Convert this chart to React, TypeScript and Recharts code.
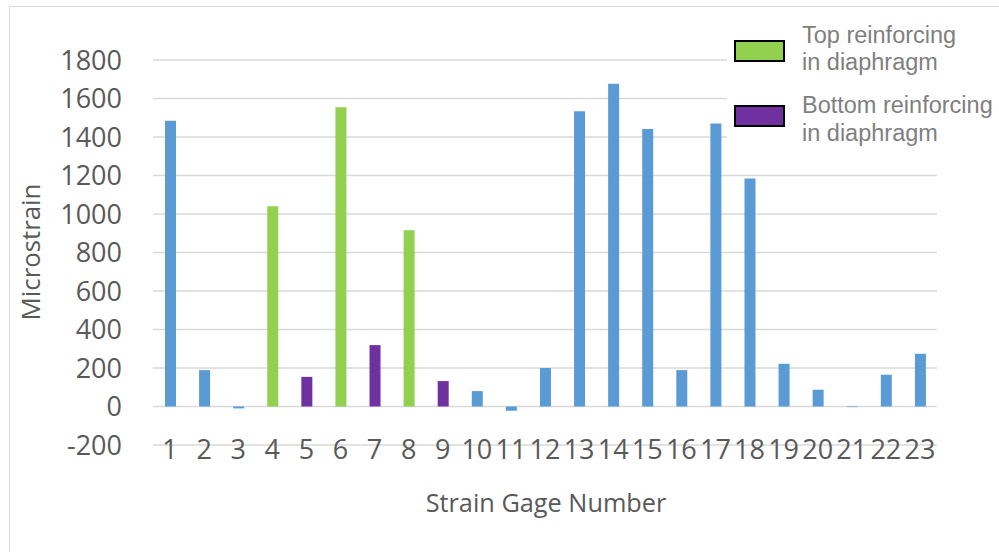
import React from 'react';
import { BarChart, Bar, XAxis, YAxis, CartesianGrid, Cell, Legend } from 'recharts';

const gageNumbers = ['1','2','3','4','5','6','7','8','9','10','11','12','13','14','15','16','17','18','19','20','21','22','23'];
const strainValues = [1485, 189, -10, 1040, 154, 1555, 319, 915, 132, 80, -22, 200, 1534, 1676, 1442, 189, 1470, 1184, 222, 87, -3, 165, 274];
const gageGroups = ['other','other','other','top','bottom','top','bottom','top','bottom','other','other','other','other','other','other','other','other','other','other','other','other','other','other'];
const yTicks = [-200, 0, 200, 400, 600, 800, 1000, 1200, 1400, 1600, 1800];
const legendItems = [
  { key: 'top', lines: ['Top reinforcing', 'in diaphragm'] },
  { key: 'bottom', lines: ['Bottom reinforcing', 'in diaphragm'] },
];

const groupColors: Record<string, string> = {
  other: '#5B9BD5',
  top: '#92D050',
  bottom: '#7030A0',
};

const data = gageNumbers.map((g, i) => ({ gage: g, value: strainValues[i], group: gageGroups[i] }));

const FONT = '"Open Sans", "Noto Sans", sans-serif';

const XTick = (props: any) => {
  const { x, y, payload } = props;
  return (
    <text x={x} y={y + 13.6} textAnchor="middle" fontFamily={FONT} fontSize={27} fill="#595959">
      {payload.value}
    </text>
  );
};

const YTick = (props: any) => {
  const { x, y, payload } = props;
  return (
    <text x={x - 31} y={y + 9.6} textAnchor="end" fontFamily={FONT} fontSize={27} fill="#595959">
      {payload.value}
    </text>
  );
};

const LegendContent = () => (
  <svg width={272} height={140} style={{ display: 'block' }}>
    <rect x={0} y={0} width={272} height={140} fill="#ffffff" />
    {legendItems.map((item, i) => {
      const sy = 26 + i * 65;
      const by = 27.7 + i * 70.6;
      return (
        <g key={item.key}>
          <rect x={8} y={sy} width={49} height={20} fill={groupColors[item.key]} stroke="#000000" strokeWidth={2} />
          {item.lines.map((ln, j) => (
            <text key={j} x={75} y={by + j * 27.4} fontFamily='"Liberation Sans", Arial, sans-serif' fontSize={23.5} fill="#7f7f7f">
              {ln}
            </text>
          ))}
        </g>
      );
    })}
  </svg>
);

export default function App() {
  return (
    <div style={{ position: 'absolute', left: 0, top: 0, width: 999, height: 552, overflow: 'hidden', background: '#fff' }}>
      <div style={{ position: 'absolute', left: 9, top: 6, width: 1100, height: 700, border: '1.5px solid #d9d9d9', boxSizing: 'border-box' }} />
      <BarChart width={999} height={552} data={data} margin={{ top: 60, right: 62, bottom: 0, left: 0 }}>
        <CartesianGrid vertical={false} stroke="#d9d9d9" strokeWidth={1.5} />
        <XAxis
          dataKey="gage"
          height={107}
          interval={0}
          tickLine={false}
          axisLine={false}
          tickSize={0}
          tickMargin={0}
          tick={<XTick />}
          label={{
            content: () => (
              <text x={546} y={512} textAnchor="middle" fontFamily={FONT} fontSize={25.3} fill="#595959">
                Strain Gage Number
              </text>
            ),
          }}
        />
        <YAxis
          width={153}
          domain={[-200, 1800]}
          ticks={yTicks}
          interval={0}
          tickLine={false}
          axisLine={false}
          tickSize={0}
          tickMargin={0}
          tick={<YTick />}
          label={{
            content: () => (
              <text x={40} y={252} transform="rotate(-90, 40, 252)" textAnchor="middle" fontFamily={FONT} fontSize={25.8} fill="#595959">
                Microstrain
              </text>
            ),
          }}
        />
        <Legend
          layout="vertical"
          align="center"
          verticalAlign="middle"
          content={<LegendContent />}
          wrapperStyle={{ left: 727, top: 15, width: 272, height: 140, bottom: 'auto', right: 'auto' }}
        />
        <Bar dataKey="value" barSize={11} isAnimationActive={false}>
          {data.map((d, i) => (
            <Cell key={i} fill={groupColors[d.group]} />
          ))}
        </Bar>
      </BarChart>
    </div>
  );
}
